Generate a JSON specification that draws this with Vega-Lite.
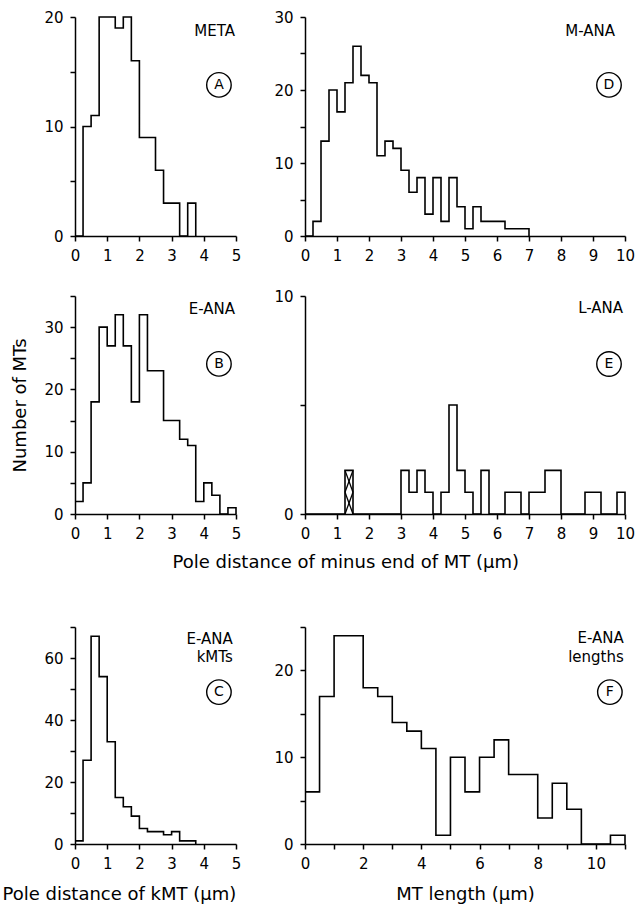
{
  "$schema": "https://vega.github.io/schema/vega-lite/v6.json",
  "background": "white",
  "padding": {"left": 2, "top": 10, "right": 5, "bottom": 2},
  "config": {
    "font": "DejaVu Sans",
    "view": {"stroke": null},
    "axis": {"domainColor": "black", "tickColor": "black", "labelColor": "black", "titleColor": "black", "grid": false, "labelFontSize": 15, "titleFontSize": 18, "titleFontWeight": "normal", "tickSize": 5, "domainWidth": 1.5, "tickWidth": 1.5, "labelFlush": false, "labelOverlap": false, "labelPadding": 7, "titlePadding": 12},
    "text": {"color": "black", "font": "DejaVu Sans"}
  },
  "columns": 2,
  "align": "each",
  "bounds": "full",
  "spacing": {"row": 26, "column": -69},
  "concat": [
    {
      "width": 161, "height": 219,
      "data": {"values": [
        {"x": 0, "n": 0}, {"x": 0.25, "n": 10}, {"x": 0.5, "n": 11}, {"x": 0.75, "n": 20}, {"x": 1.0, "n": 20},
        {"x": 1.25, "n": 19}, {"x": 1.5, "n": 20}, {"x": 1.75, "n": 16}, {"x": 2.0, "n": 9}, {"x": 2.25, "n": 9},
        {"x": 2.5, "n": 6}, {"x": 2.75, "n": 3}, {"x": 3.0, "n": 3}, {"x": 3.25, "n": 0}, {"x": 3.5, "n": 3}, {"x": 3.75, "n": 0}
      ]},
      "layer": [
        {"mark": {"type": "line", "interpolate": "step-after", "color": "black", "strokeWidth": 1.6},
         "encoding": {
           "x": {"field": "x", "type": "quantitative", "scale": {"domain": [0, 5], "nice": false}, "axis": {"values": [0, 1, 2, 3, 4, 5], "labelOverlap": false, "title": null}},
           "y": {"field": "n", "type": "quantitative", "scale": {"domain": [0, 20], "nice": false}, "axis": {"values": [0, 5, 10, 15, 20], "labelOverlap": false, "labelExpr": "datum.value % 10 == 0 ? datum.label : ''", "title": null}}
         }},
        {"data": {"values": [{}]}, "mark": {"type": "text", "align": "right", "baseline": "middle", "fontSize": 15},
         "encoding": {"x": {"datum": 4.97, "axis": {"values": [0, 1, 2, 3, 4, 5]}}, "y": {"datum": 18.7, "axis": {"values": [0, 5, 10, 15, 20]}}, "text": {"value": "META"}}},
        {"data": {"values": [{}]}, "mark": {"type": "point", "shape": "circle", "filled": false, "color": "black", "strokeWidth": 1.4, "size": 600, "opacity": 1},
         "encoding": {"x": {"datum": 4.47, "axis": {"values": [0, 1, 2, 3, 4, 5]}}, "y": {"datum": 13.8, "axis": {"values": [0, 5, 10, 15, 20]}}}},
        {"data": {"values": [{}]}, "mark": {"type": "text", "align": "center", "baseline": "middle", "fontSize": 14},
         "encoding": {"x": {"datum": 4.47, "axis": {"values": [0, 1, 2, 3, 4, 5]}}, "y": {"datum": 13.8, "axis": {"values": [0, 5, 10, 15, 20]}}, "text": {"value": "A"}}}
      ]
    },
    {
      "width": 320, "height": 219,
      "data": {"values": [
        {"x": 0, "n": 0}, {"x": 0.25, "n": 2}, {"x": 0.5, "n": 13}, {"x": 0.75, "n": 20}, {"x": 1.0, "n": 17},
        {"x": 1.25, "n": 21}, {"x": 1.5, "n": 26}, {"x": 1.75, "n": 22}, {"x": 2.0, "n": 21}, {"x": 2.25, "n": 11},
        {"x": 2.5, "n": 13}, {"x": 2.75, "n": 12}, {"x": 3.0, "n": 9}, {"x": 3.25, "n": 6}, {"x": 3.5, "n": 8},
        {"x": 3.75, "n": 3}, {"x": 4.0, "n": 8}, {"x": 4.25, "n": 2}, {"x": 4.5, "n": 8}, {"x": 4.75, "n": 4},
        {"x": 5.0, "n": 1}, {"x": 5.25, "n": 4}, {"x": 5.5, "n": 2}, {"x": 5.75, "n": 2}, {"x": 6.0, "n": 2},
        {"x": 6.25, "n": 1}, {"x": 6.5, "n": 1}, {"x": 6.75, "n": 1}, {"x": 7.0, "n": 0}
      ]},
      "layer": [
        {"mark": {"type": "line", "interpolate": "step-after", "color": "black", "strokeWidth": 1.6},
         "encoding": {
           "x": {"field": "x", "type": "quantitative", "scale": {"domain": [0, 10], "nice": false}, "axis": {"values": [0, 1, 2, 3, 4, 5, 6, 7, 8, 9, 10], "labelOverlap": false, "title": null}},
           "y": {"field": "n", "type": "quantitative", "scale": {"domain": [0, 30], "nice": false}, "axis": {"values": [0, 5, 10, 15, 20, 25, 30], "labelOverlap": false, "labelExpr": "datum.value % 10 == 0 ? datum.label : ''", "title": null}}
         }},
        {"data": {"values": [{}]}, "mark": {"type": "text", "align": "right", "baseline": "middle", "fontSize": 15},
         "encoding": {"x": {"datum": 9.69, "axis": {"values": [0, 1, 2, 3, 4, 5, 6, 7, 8, 9, 10]}}, "y": {"datum": 28.1, "axis": {"values": [0, 5, 10, 15, 20, 25, 30]}}, "text": {"value": "M-ANA"}}},
        {"data": {"values": [{}]}, "mark": {"type": "point", "shape": "circle", "filled": false, "color": "black", "strokeWidth": 1.4, "size": 600, "opacity": 1},
         "encoding": {"x": {"datum": 9.5, "axis": {"values": [0, 1, 2, 3, 4, 5, 6, 7, 8, 9, 10]}}, "y": {"datum": 20.7, "axis": {"values": [0, 5, 10, 15, 20, 25, 30]}}}},
        {"data": {"values": [{}]}, "mark": {"type": "text", "align": "center", "baseline": "middle", "fontSize": 14},
         "encoding": {"x": {"datum": 9.5, "axis": {"values": [0, 1, 2, 3, 4, 5, 6, 7, 8, 9, 10]}}, "y": {"datum": 20.7, "axis": {"values": [0, 5, 10, 15, 20, 25, 30]}}, "text": {"value": "D"}}}
      ]
    },
    {
      "width": 161, "height": 218,
      "data": {"values": [
        {"x": 0, "n": 2}, {"x": 0.25, "n": 5}, {"x": 0.5, "n": 18}, {"x": 0.75, "n": 30}, {"x": 1.0, "n": 27},
        {"x": 1.25, "n": 32}, {"x": 1.5, "n": 27}, {"x": 1.75, "n": 18}, {"x": 2.0, "n": 32}, {"x": 2.25, "n": 23},
        {"x": 2.5, "n": 23}, {"x": 2.75, "n": 15}, {"x": 3.0, "n": 15}, {"x": 3.25, "n": 12}, {"x": 3.5, "n": 11},
        {"x": 3.75, "n": 2}, {"x": 4.0, "n": 5}, {"x": 4.25, "n": 3}, {"x": 4.5, "n": 0}, {"x": 4.75, "n": 1}, {"x": 5.0, "n": 0}
      ]},
      "layer": [
        {"mark": {"type": "line", "interpolate": "step-after", "color": "black", "strokeWidth": 1.6},
         "encoding": {
           "x": {"field": "x", "type": "quantitative", "scale": {"domain": [0, 5], "nice": false}, "axis": {"values": [0, 1, 2, 3, 4, 5], "labelOverlap": false, "title": null}},
           "y": {"field": "n", "type": "quantitative", "scale": {"domain": [0, 35], "nice": false}, "axis": {"values": [0, 5, 10, 15, 20, 25, 30, 35], "labelOverlap": false, "labelExpr": "datum.value % 10 == 0 ? datum.label : ''", "title": "Number of MTs", "titlePadding": 14}}
         }},
        {"data": {"values": [{}]}, "mark": {"type": "text", "align": "right", "baseline": "middle", "fontSize": 15},
         "encoding": {"x": {"datum": 4.97, "axis": {"values": [0, 1, 2, 3, 4, 5]}}, "y": {"datum": 32.9, "axis": {"values": [0, 5, 10, 15, 20, 25, 30, 35]}}, "text": {"value": "E-ANA"}}},
        {"data": {"values": [{}]}, "mark": {"type": "point", "shape": "circle", "filled": false, "color": "black", "strokeWidth": 1.4, "size": 600, "opacity": 1},
         "encoding": {"x": {"datum": 4.47, "axis": {"values": [0, 1, 2, 3, 4, 5]}}, "y": {"datum": 24.1, "axis": {"values": [0, 5, 10, 15, 20, 25, 30, 35]}}}},
        {"data": {"values": [{}]}, "mark": {"type": "text", "align": "center", "baseline": "middle", "fontSize": 14},
         "encoding": {"x": {"datum": 4.47, "axis": {"values": [0, 1, 2, 3, 4, 5]}}, "y": {"datum": 24.1, "axis": {"values": [0, 5, 10, 15, 20, 25, 30, 35]}}, "text": {"value": "B"}}}
      ]
    },
    {
      "width": 320, "height": 218,
      "data": {"values": [
        {"x": 0, "n": 0}, {"x": 0.25, "n": 0}, {"x": 0.5, "n": 0}, {"x": 0.75, "n": 0}, {"x": 1.0, "n": 0},
        {"x": 1.25, "n": 2}, {"x": 1.5, "n": 0}, {"x": 1.75, "n": 0}, {"x": 2.0, "n": 0}, {"x": 2.25, "n": 0},
        {"x": 2.5, "n": 0}, {"x": 2.75, "n": 0}, {"x": 3.0, "n": 2}, {"x": 3.25, "n": 1}, {"x": 3.5, "n": 2},
        {"x": 3.75, "n": 1}, {"x": 4.0, "n": 0}, {"x": 4.25, "n": 1}, {"x": 4.5, "n": 5}, {"x": 4.75, "n": 2},
        {"x": 5.0, "n": 1}, {"x": 5.25, "n": 0}, {"x": 5.5, "n": 2}, {"x": 5.75, "n": 0}, {"x": 6.0, "n": 0},
        {"x": 6.25, "n": 1}, {"x": 6.5, "n": 1}, {"x": 6.75, "n": 0}, {"x": 7.0, "n": 1}, {"x": 7.25, "n": 1},
        {"x": 7.5, "n": 2}, {"x": 7.75, "n": 2}, {"x": 8.0, "n": 0}, {"x": 8.25, "n": 0}, {"x": 8.5, "n": 0},
        {"x": 8.75, "n": 1}, {"x": 9.0, "n": 1}, {"x": 9.25, "n": 0}, {"x": 9.5, "n": 0}, {"x": 9.75, "n": 1}, {"x": 10.0, "n": 0}
      ]},
      "layer": [
        {"mark": {"type": "line", "interpolate": "step-after", "color": "black", "strokeWidth": 1.6},
         "encoding": {
           "x": {"field": "x", "type": "quantitative", "scale": {"domain": [0, 10], "nice": false}, "axis": {"values": [0, 1, 2, 3, 4, 5, 6, 7, 8, 9, 10], "labelOverlap": false, "title": ["Pole distance of minus end of MT (μm)", " ", " "], "titleAlign": "left", "titleX": -133, "titleLineHeight": 11.5}},
           "y": {"field": "n", "type": "quantitative", "scale": {"domain": [0, 10], "nice": false}, "axis": {"values": [0, 5, 10], "labelOverlap": false, "labelExpr": "datum.value % 10 == 0 ? datum.label : ''", "title": null}}
         }},
        {"data": {"values": [
          {"x": 1.25, "x2": 1.5, "y": 0, "y2": 1}, {"x": 1.25, "x2": 1.5, "y": 1, "y2": 0},
          {"x": 1.25, "x2": 1.5, "y": 1, "y2": 2}, {"x": 1.25, "x2": 1.5, "y": 2, "y2": 1}
         ]},
         "mark": {"type": "rule", "color": "black", "strokeWidth": 1.3},
         "encoding": {"x": {"field": "x", "type": "quantitative", "axis": {"values": [0, 1, 2, 3, 4, 5, 6, 7, 8, 9, 10]}}, "x2": {"field": "x2"}, "y": {"field": "y", "type": "quantitative", "axis": {"values": [0, 5, 10]}}, "y2": {"field": "y2"}}},
        {"data": {"values": [{}]}, "mark": {"type": "text", "align": "right", "baseline": "middle", "fontSize": 15},
         "encoding": {"x": {"datum": 9.94, "axis": {"values": [0, 1, 2, 3, 4, 5, 6, 7, 8, 9, 10]}}, "y": {"datum": 9.45, "axis": {"values": [0, 5, 10]}}, "text": {"value": "L-ANA"}}},
        {"data": {"values": [{}]}, "mark": {"type": "point", "shape": "circle", "filled": false, "color": "black", "strokeWidth": 1.4, "size": 600, "opacity": 1},
         "encoding": {"x": {"datum": 9.5, "axis": {"values": [0, 1, 2, 3, 4, 5, 6, 7, 8, 9, 10]}}, "y": {"datum": 6.88, "axis": {"values": [0, 5, 10]}}}},
        {"data": {"values": [{}]}, "mark": {"type": "text", "align": "center", "baseline": "middle", "fontSize": 14},
         "encoding": {"x": {"datum": 9.5, "axis": {"values": [0, 1, 2, 3, 4, 5, 6, 7, 8, 9, 10]}}, "y": {"datum": 6.88, "axis": {"values": [0, 5, 10]}}, "text": {"value": "E"}}}
      ]
    },
    {
      "width": 161, "height": 217,
      "data": {"values": [
        {"x": 0, "n": 1}, {"x": 0.25, "n": 27}, {"x": 0.5, "n": 67}, {"x": 0.75, "n": 54}, {"x": 1.0, "n": 33},
        {"x": 1.25, "n": 15}, {"x": 1.5, "n": 12}, {"x": 1.75, "n": 9}, {"x": 2.0, "n": 5}, {"x": 2.25, "n": 4},
        {"x": 2.5, "n": 4}, {"x": 2.75, "n": 3}, {"x": 3.0, "n": 4}, {"x": 3.25, "n": 1}, {"x": 3.5, "n": 1}, {"x": 3.75, "n": 0}
      ]},
      "layer": [
        {"mark": {"type": "line", "interpolate": "step-after", "color": "black", "strokeWidth": 1.6},
         "encoding": {
           "x": {"field": "x", "type": "quantitative", "scale": {"domain": [0, 5], "nice": false}, "axis": {"values": [0, 1, 2, 3, 4, 5], "labelOverlap": false, "title": "Pole distance of kMT (μm)", "titleAlign": "left", "titleX": -73, "titlePadding": 14}},
           "y": {"field": "n", "type": "quantitative", "scale": {"domain": [0, 70], "nice": false}, "axis": {"values": [0, 10, 20, 30, 40, 50, 60, 70], "labelOverlap": false, "labelExpr": "datum.value % 20 == 0 ? datum.label : ''", "title": null}}
         }},
        {"data": {"values": [{}]}, "mark": {"type": "text", "align": "right", "baseline": "middle", "fontSize": 15},
         "encoding": {"x": {"datum": 4.9, "axis": {"values": [0, 1, 2, 3, 4, 5]}}, "y": {"datum": 66.1, "axis": {"values": [0, 10, 20, 30, 40, 50, 60, 70]}}, "text": {"value": "E-ANA"}}},
        {"data": {"values": [{}]}, "mark": {"type": "text", "align": "right", "baseline": "middle", "fontSize": 15},
         "encoding": {"x": {"datum": 4.9, "axis": {"values": [0, 1, 2, 3, 4, 5]}}, "y": {"datum": 60.3, "axis": {"values": [0, 10, 20, 30, 40, 50, 60, 70]}}, "text": {"value": "kMTs"}}},
        {"data": {"values": [{}]}, "mark": {"type": "point", "shape": "circle", "filled": false, "color": "black", "strokeWidth": 1.4, "size": 600, "opacity": 1},
         "encoding": {"x": {"datum": 4.47, "axis": {"values": [0, 1, 2, 3, 4, 5]}}, "y": {"datum": 49, "axis": {"values": [0, 10, 20, 30, 40, 50, 60, 70]}}}},
        {"data": {"values": [{}]}, "mark": {"type": "text", "align": "center", "baseline": "middle", "fontSize": 14},
         "encoding": {"x": {"datum": 4.47, "axis": {"values": [0, 1, 2, 3, 4, 5]}}, "y": {"datum": 49, "axis": {"values": [0, 10, 20, 30, 40, 50, 60, 70]}}, "text": {"value": "C"}}}
      ]
    },
    {
      "width": 320, "height": 217,
      "data": {"values": [
        {"x": 0, "n": 6}, {"x": 0.5, "n": 17}, {"x": 1.0, "n": 24}, {"x": 1.5, "n": 24}, {"x": 2.0, "n": 18},
        {"x": 2.5, "n": 17}, {"x": 3.0, "n": 14}, {"x": 3.5, "n": 13}, {"x": 4.0, "n": 11}, {"x": 4.5, "n": 1},
        {"x": 5.0, "n": 10}, {"x": 5.5, "n": 6}, {"x": 6.0, "n": 10}, {"x": 6.5, "n": 12}, {"x": 7.0, "n": 8},
        {"x": 7.5, "n": 8}, {"x": 8.0, "n": 3}, {"x": 8.5, "n": 7}, {"x": 9.0, "n": 4}, {"x": 9.5, "n": 0},
        {"x": 10.0, "n": 0}, {"x": 10.5, "n": 1}, {"x": 11.0, "n": 0}
      ]},
      "layer": [
        {"mark": {"type": "line", "interpolate": "step-after", "color": "black", "strokeWidth": 1.6},
         "encoding": {
           "x": {"field": "x", "type": "quantitative", "scale": {"domain": [0, 11], "nice": false}, "axis": {"values": [0, 1, 2, 3, 4, 5, 6, 7, 8, 9, 10, 11], "labelOverlap": false, "labelExpr": "datum.value % 2 == 0 ? datum.label : ''", "title": "MT length (μm)", "titlePadding": 14}},
           "y": {"field": "n", "type": "quantitative", "scale": {"domain": [0, 25], "nice": false}, "axis": {"values": [0, 5, 10, 15, 20, 25], "labelOverlap": false, "labelExpr": "datum.value % 10 == 0 ? datum.label : ''", "title": null}}
         }},
        {"data": {"values": [{}]}, "mark": {"type": "text", "align": "right", "baseline": "middle", "fontSize": 15},
         "encoding": {"x": {"datum": 10.96, "axis": {"values": [0, 1, 2, 3, 4, 5, 6, 7, 8, 9, 10, 11]}}, "y": {"datum": 23.7, "axis": {"values": [0, 5, 10, 15, 20, 25]}}, "text": {"value": "E-ANA"}}},
        {"data": {"values": [{}]}, "mark": {"type": "text", "align": "right", "baseline": "middle", "fontSize": 15},
         "encoding": {"x": {"datum": 10.96, "axis": {"values": [0, 1, 2, 3, 4, 5, 6, 7, 8, 9, 10, 11]}}, "y": {"datum": 21.6, "axis": {"values": [0, 5, 10, 15, 20, 25]}}, "text": {"value": "lengths"}}},
        {"data": {"values": [{}]}, "mark": {"type": "point", "shape": "circle", "filled": false, "color": "black", "strokeWidth": 1.4, "size": 600, "opacity": 1},
         "encoding": {"x": {"datum": 10.48, "axis": {"values": [0, 1, 2, 3, 4, 5, 6, 7, 8, 9, 10, 11]}}, "y": {"datum": 17.5, "axis": {"values": [0, 5, 10, 15, 20, 25]}}}},
        {"data": {"values": [{}]}, "mark": {"type": "text", "align": "center", "baseline": "middle", "fontSize": 14},
         "encoding": {"x": {"datum": 10.48, "axis": {"values": [0, 1, 2, 3, 4, 5, 6, 7, 8, 9, 10, 11]}}, "y": {"datum": 17.5, "axis": {"values": [0, 5, 10, 15, 20, 25]}}, "text": {"value": "F"}}}
      ]
    }
  ]
}
